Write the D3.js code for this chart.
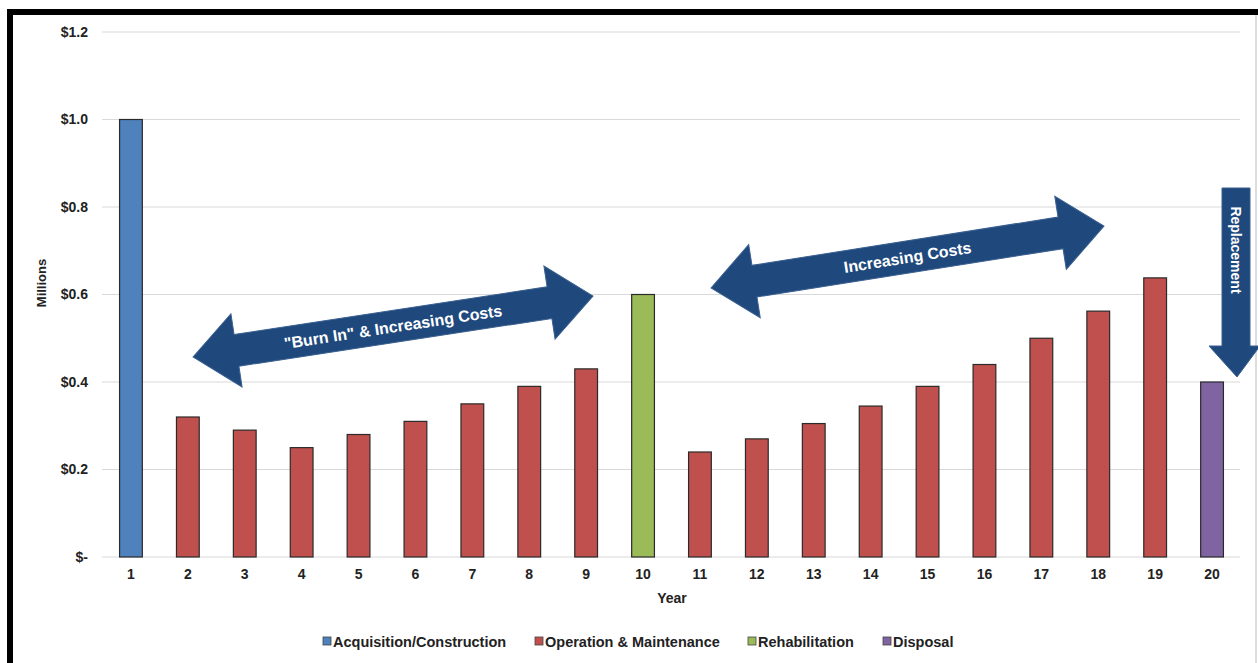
<!DOCTYPE html>
<html>
<head>
  <meta charset="UTF-8">
  <title>Life Cycle Costs</title>
  <script src="https://cdn.jsdelivr.net/npm/d3@7"></script>
  <style>
    body { margin: 0; background: #fff; }
    text { font-family: Arial, "Liberation Sans", sans-serif; }
  </style>
</head>
<body>
<div id="chart"></div>
<script>
  // data (millions of dollars)
  var years = d3.range(1, 21);
  var costs = [1.0, 0.32, 0.29, 0.25, 0.28, 0.31, 0.35, 0.39, 0.43, 0.60,
               0.24, 0.27, 0.305, 0.345, 0.39, 0.44, 0.50, 0.562, 0.638, 0.40];
  var phase = ['acq', 'om', 'om', 'om', 'om', 'om', 'om', 'om', 'om', 'reh',
               'om', 'om', 'om', 'om', 'om', 'om', 'om', 'om', 'om', 'disp'];
  var phaseKeys = ['acq', 'om', 'reh', 'disp'];
  var phaseNames = ['Acquisition/Construction', 'Operation & Maintenance', 'Rehabilitation', 'Disposal'];
  var phaseColors = ['#4f81bd', '#c0504d', '#9bbb59', '#8064a2'];
  var yTicks = [0, 0.2, 0.4, 0.6, 0.8, 1.0, 1.2];

  var w = 1258, h = 663;
  var svg = d3.select('#chart').append('svg')
      .attr('width', w).attr('height', h);

  // frame
  svg.append('rect')
      .attr('x', 10).attr('y', 12).attr('width', w + 20).attr('height', h + 20)
      .style('fill', 'none').style('stroke', '#000').style('stroke-width', 6);
  svg.append('line')
      .attr('x1', 1256).attr('x2', 1256).attr('y1', 15).attr('y2', h)
      .style('stroke', '#bbb').style('stroke-width', 1);

  var x = d3.scaleBand().domain(years).range([102.5, 1240.5]).paddingInner(0.6).paddingOuter(0.3);
  var y = d3.scaleLinear().domain([0, 1.2]).range([557, 32]);
  var color = d3.scaleOrdinal().domain(phaseKeys).range(phaseColors);

  // gridlines
  svg.append('g').selectAll('line')
      .data(yTicks).enter().append('line')
      .attr('x1', 102).attr('x2', 1240)
      .attr('y1', function(d){ return y(d); })
      .attr('y2', function(d){ return y(d); })
      .style('stroke', '#d9d9d9').style('stroke-width', 1);

  // y axis labels
  var yAxis = d3.axisLeft(y).tickValues(yTicks).tickSize(0).tickPadding(0)
      .tickFormat(function(d){ return d === 0 ? '$-' : '$' + d.toFixed(1); });
  var gy = svg.append('g').attr('transform', 'translate(88,0)').call(yAxis);
  gy.select('.domain').remove();
  gy.selectAll('text').style('font-size', '14px').style('font-weight', 'bold').style('fill', '#222');

  // x axis labels
  var xAxis = d3.axisBottom(x).tickSize(0).tickPadding(12);
  var gx = svg.append('g').attr('transform', 'translate(0,557)').call(xAxis);
  gx.select('.domain').remove();
  gx.selectAll('text').style('font-size', '14px').style('font-weight', 'bold').style('fill', '#222');

  // bars
  svg.append('g').selectAll('rect')
      .data(years).enter().append('rect')
      .attr('x', function(d){ return x(d); })
      .attr('width', x.bandwidth())
      .attr('y', function(d, i){ return y(costs[i]); })
      .attr('height', function(d, i){ return y(0) - y(costs[i]); })
      .style('fill', function(d, i){ return color(phase[i]); })
      .style('stroke', '#2a2a2a').style('stroke-width', 1.2);

  // axis titles
  svg.append('text').attr('x', 672).attr('y', 603).attr('text-anchor', 'middle')
      .style('font-size', '14px').style('font-weight', 'bold').style('fill', '#222')
      .text('Year');
  svg.append('text').attr('transform', 'translate(46,283) rotate(-90)').attr('text-anchor', 'middle')
      .style('font-size', '13px').style('font-weight', 'bold').style('fill', '#222')
      .text('Millions');

  // legend
  var legendX = [323, 535, 748, 883];
  var lg = svg.append('g').selectAll('g')
      .data(phaseKeys).enter().append('g')
      .attr('transform', function(d, i){ return 'translate(' + legendX[i] + ',642)'; });
  lg.append('rect').attr('x', 0).attr('y', -5).attr('width', 8).attr('height', 8)
      .style('fill', function(d){ return color(d); })
      .style('stroke', '#444').style('stroke-width', 0.8);
  lg.append('text').attr('x', 10).attr('y', 5)
      .style('font-size', '14.5px').style('font-weight', 'bold').style('fill', '#222')
      .text(function(d, i){ return phaseNames[i]; });

  // double headed arrows
  function doubleArrow(x1, y1, x2, y2, label) {
    var len = Math.hypot(x2 - x1, y2 - y1);
    var ang = Math.atan2(y2 - y1, x2 - x1) * 180 / Math.PI;
    var hl = 44, hw = 37, sw = 16;
    var pts = [[0, 0], [hl, -hw], [hl, -sw], [len - hl, -sw], [len - hl, -hw], [len, 0],
               [len - hl, hw], [len - hl, sw], [hl, sw], [hl, hw]];
    var g = svg.append('g')
        .attr('transform', 'translate(' + x1 + ',' + y1 + ') rotate(' + ang + ')');
    g.append('path').attr('d', d3.line()(pts) + 'Z')
        .style('fill', '#1f497d').style('stroke', '#3a5f8f').style('stroke-width', 1);
    g.append('text').attr('x', len / 2).attr('y', 6).attr('text-anchor', 'middle')
        .style('font-size', '16px').style('font-weight', 'bold').style('fill', '#fff')
        .text(label);
  }
  doubleArrow(193, 357, 593, 296, '"Burn In" & Increasing Costs');
  doubleArrow(711, 288, 1104, 226, 'Increasing Costs');

  // replacement arrow (down)
  var rp = [[1222, 188], [1250, 188], [1250, 346], [1260, 346], [1237, 377],
            [1209, 346], [1222, 346]];
  svg.append('path').attr('d', d3.line()(rp) + 'Z')
      .style('fill', '#1f497d').style('stroke', '#3a5f8f').style('stroke-width', 1);
  svg.append('text').attr('transform', 'translate(1231,250) rotate(90)').attr('text-anchor', 'middle')
      .style('font-size', '14px').style('font-weight', 'bold').style('fill', '#fff')
      .text('Replacement');
</script>
</body>
</html>
